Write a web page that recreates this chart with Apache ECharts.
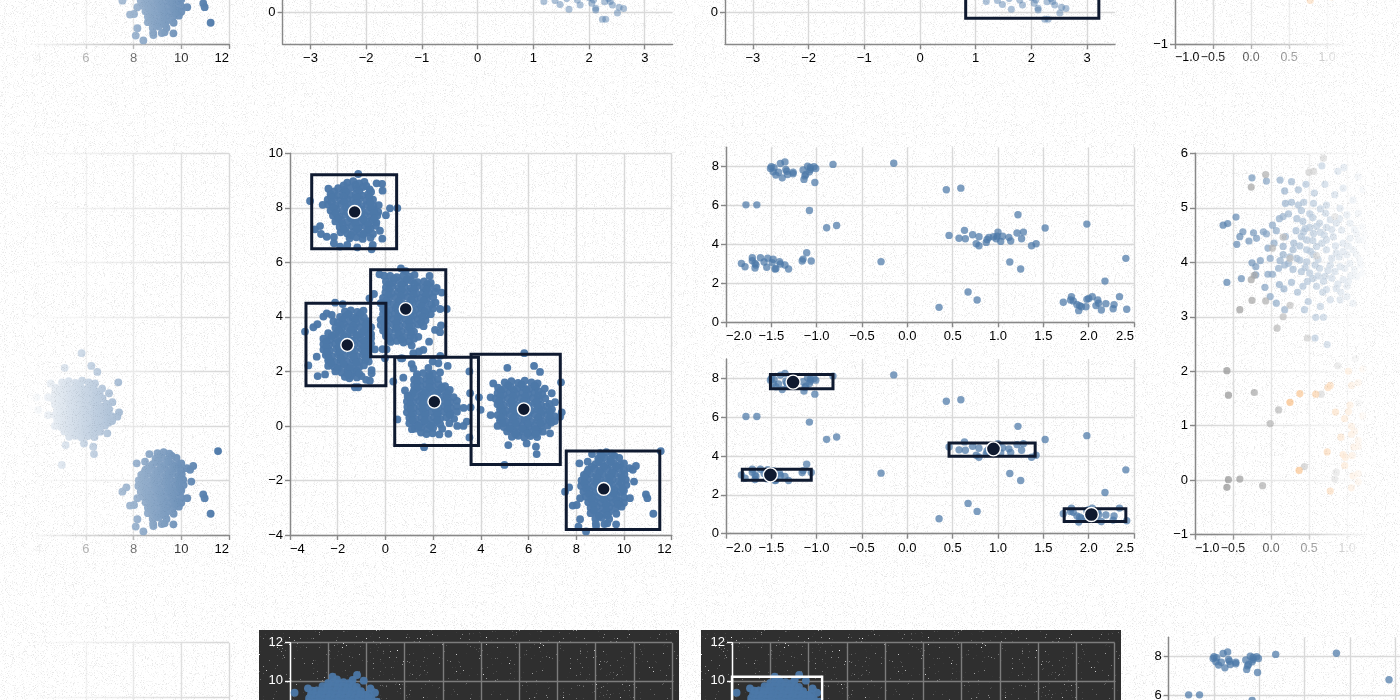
<!DOCTYPE html>
<html><head><meta charset="utf-8">
<style>
html,body{margin:0;padding:0;width:1400px;height:700px;overflow:hidden;background:#fff}
#paper,.dark,#chart,.fade{position:absolute}
#paper{left:0;top:0;width:1400px;height:700px;background-image:url("data:image/svg+xml;utf8,<svg xmlns='http://www.w3.org/2000/svg' width='1400' height='700'><filter id='n'><feTurbulence type='fractalNoise' baseFrequency='1.1' numOctaves='3' seed='4'/><feColorMatrix values='0 0 0 0 .8 0 0 0 0 .8 0 0 0 0 .8 0 0 0 5 -2.8'/></filter><rect width='1400' height='700' filter='url(%23n)'/></svg>")}
.dark{top:630px;height:70px;background-color:#2f2f2f;background-image:url("data:image/svg+xml;utf8,<svg xmlns='http://www.w3.org/2000/svg' width='420' height='70'><filter id='d'><feTurbulence type='fractalNoise' baseFrequency='1.3' numOctaves='2' seed='9'/><feColorMatrix values='0 0 0 0 .85 0 0 0 0 .85 0 0 0 0 .85 0 0 0 7 -5.1'/></filter><rect width='420' height='70' filter='url(%23d)'/></svg>")}
#chart{left:0;top:0;width:1400px;height:700px}
#fadeL{left:0;top:0;width:240px;height:700px;-webkit-mask-image:linear-gradient(to right,transparent 28px,#000 218px);mask-image:linear-gradient(to right,transparent 28px,#000 218px)}
#fadeR{left:1150px;top:70px;width:250px;height:500px;-webkit-mask-image:linear-gradient(to right,#000 65px,transparent 220px);mask-image:linear-gradient(to right,#000 65px,transparent 220px)}
#fadeT{left:1130px;top:0;width:270px;height:70px;-webkit-mask-image:linear-gradient(to right,#000 65px,transparent 220px);mask-image:linear-gradient(to right,#000 65px,transparent 220px)}
</style>
<script src="https://cdn.jsdelivr.net/npm/echarts@6/dist/echarts.min.js"></script>
</head><body>
<div id="paper"></div>
<div class="dark" style="left:259px;width:420px"></div>
<div class="dark" style="left:701px;width:420px"></div>
<div id="chart"></div>
<div class="fade" id="fadeL"></div>
<div class="fade" id="fadeR"></div>
<div class="fade" id="fadeT"></div>
<script>
// ---------- values ----------
const clusterA=[[-3.16,8.25],[-1.14,9.24],[-.37,8.9],[-.14,8.88],[-.12,8.63],[-2.39,8.7],[-2.63,8.11],[.5,7.99],[.19,7.98],[.02,7.73],[-2.95,7.21],[-2.74,7.33],[-2.7,7.04],[-2.46,6.94],[-2.16,6.93],[-2.16,6.7],[-1.9,6.58],[-1.6,6.64],[-1.18,6.55],[-.58,6.48],[-.53,6.64],[-.13,6.87],[-.23,7.16],
[-1.6,8.92],[-1.35,8.98],[-1.1,8.9],[-.88,8.95],
[-1.98,8.72],[-1.72,8.66],[-1.45,8.75],[-1.2,8.7],[-.95,8.76],[-.66,8.68],
[-2.3,8.5],[-2.02,8.45],[-1.78,8.54],[-1.5,8.48],[-1.24,8.52],[-.98,8.46],[-.72,8.5],
[-2.42,8.3],[-2.15,8.34],[-1.88,8.27],[-1.6,8.32],[-1.35,8.28],[-1.08,8.33],[-.8,8.26],[-.52,8.3],
[-2.4,8.12],[-2.1,8.08],[-1.84,8.14],[-1.55,8.1],[-1.3,8.15],[-1.02,8.07],[-.76,8.12],[-.5,8.06],[-.28,8.1],
[-2.3,7.9],[-2.05,7.94],[-1.78,7.88],[-1.52,7.92],[-1.25,7.86],[-1,7.93],[-.72,7.88],[-.46,7.91],[-.3,7.85],
[-2.2,7.72],[-1.94,7.68],[-1.66,7.74],[-1.4,7.7],[-1.14,7.66],[-.88,7.73],[-.6,7.68],[-.34,7.72],
[-2.1,7.5],[-1.85,7.54],[-1.58,7.48],[-1.3,7.52],[-1.05,7.46],[-.8,7.5],[-.55,7.54],[-.38,7.46],
[-1.92,7.3],[-1.66,7.26],[-1.4,7.32],[-1.13,7.28],[-.86,7.33],[-.62,7.26],[-.4,7.34],
[-1.88,7.1],[-1.6,7.06],[-1.33,7.12],[-1.05,7.08],[-.8,7.1],[-.52,7.04],
[-1.5,6.88],[-1.22,6.92],[-.95,6.86],[-.62,6.9],
[-1.75,8.82],[-1.25,8.84],[-.8,8.8],[-2.15,8.6],[-1.65,8.58],[-1.1,8.62],[-.6,8.58],[-2.28,8.4],[-1.75,8.42],[-1.22,8.38],[-.68,8.4],[-2.25,8.2],[-1.72,8.22],[-1.18,8.18],[-.64,8.2],[-2.18,8],[-1.65,8.02],[-1.12,7.98],[-.6,8],[-2.08,7.8],[-1.55,7.82],[-1.02,7.78],[-.48,7.8],[-1.98,7.6],[-1.45,7.62],[-.92,7.58],[-.46,7.6],[-1.8,7.4],[-1.26,7.42],[-.72,7.38],[-1.75,7.2],[-1.2,7.22],[-.72,7.18],[-1.45,7],[-.92,7.02]];
const clusterB=[[.65,5.78],[.85,5.68],[-.25,5.56],[-.06,5.51],[-.67,4.68],[-.48,4.84],[2.57,4.29],[2.36,4.89],[2.29,4.29],[2.33,3.69],[2.08,3.52],[2.29,3.44],[1.83,3.09],[1.1,2.95],[1.59,2.79],[1.17,2.67],[1.41,2.73],[2.3,2.57],[.71,2.48],[-.44,2.81],[-.12,2.82],[.05,2.81],[-.02,2.48],
[.2,5.5],[.48,5.46],[.75,5.52],[1.02,5.48],[1.22,5.54],[1.85,5.5],
[.02,5.3],[.3,5.26],[.56,5.32],[.82,5.28],[1.08,5.33],[1.35,5.27],[1.62,5.3],[1.9,5.25],
[.02,5.08],[.28,5.12],[.55,5.06],[.8,5.1],[1.07,5.05],[1.33,5.12],[1.6,5.07],[1.86,5.12],[2.15,5.06],
[0,4.9],[.26,4.86],[.52,4.92],[.78,4.88],[1.05,4.93],[1.3,4.86],[1.58,4.9],[1.84,4.87],[2.08,4.92],
[-.1,4.7],[.15,4.66],[.42,4.72],[.68,4.68],[.95,4.73],[1.22,4.66],[1.48,4.7],[1.74,4.67],[2,4.72],
[-.2,4.5],[.08,4.52],[.34,4.46],[.6,4.5],[.88,4.46],[1.14,4.53],[1.4,4.47],[1.66,4.52],[1.92,4.46],[2.1,4.52],
[-.1,4.3],[.16,4.26],[.44,4.32],[.7,4.26],[1,4.33],[1.26,4.27],[1.52,4.32],[1.78,4.27],[2,4.31],
[-.1,4.1],[.14,4.06],[.4,4.12],[.66,4.07],[.92,4.13],[1.18,4.06],[1.44,4.11],[1.7,4.06],[1.9,4.1],
[-.2,3.9],[.06,3.86],[.32,3.92],[.58,3.88],[.85,3.93],[1.1,3.87],[1.36,3.92],[1.68,3.88],
[-.2,3.7],[.06,3.66],[.34,3.72],[.6,3.66],[.86,3.72],[1.12,3.67],[1.38,3.72],[1.6,3.66],
[-.1,3.5],[.16,3.46],[.42,3.52],[.68,3.47],[.94,3.52],[1.2,3.46],
[.02,3.3],[.28,3.26],[.54,3.32],[.8,3.27],[1.06,3.31],[1.38,3.27],
[.22,3.08],[.48,3.12],[.76,3.06],[1,3.1],
[.35,5.4],[.9,5.38],[.15,5.2],[.68,5.18],[1.2,5.22],[1.75,5.2],[.15,5],[.68,4.98],[1.2,5.02],[1.72,5],[.12,4.8],[.65,4.78],[1.18,4.82],[1.7,4.8],[.03,4.6],[.55,4.58],[1.08,4.62],[1.6,4.6],[-.05,4.4],[.47,4.38],[1,4.42],[1.52,4.4],[.02,4.2],[.55,4.18],[1.12,4.22],[1.65,4.2],[.02,4],[.52,3.98],[1.05,4.02],[1.55,4],[-.06,3.8],[.45,3.78],[.98,3.82],[1.5,3.8],[-.05,3.6],[.47,3.58],[1,3.62],[.02,3.4],[.55,3.38],[1.08,3.42],[.15,3.2],[.68,3.18],[1.2,3.2]];
const clusterC=[[-3.37,3.46],[-3.02,3.62],[-2.85,3.73],[-2.11,4.52],[-1.79,4.47],[-3.23,2.22],[-2.84,1.83],[-2.53,1.89],[-2.88,2.54],[-2.6,4.01],[-2.46,4.13],[-2.25,4.07],[-2.18,3.83],[-.72,3.83],[-1.51,1.75],[-1.28,1.42],[-1.14,1.42],[-.81,1.69],[-.65,1.66],[-.58,2.05],[-.58,1.93],
[-1.7,4.2],[-1.45,4.24],[-1.18,4.18],[-.92,4.23],
[-1.9,4],[-1.65,4.04],[-1.38,3.97],[-1.12,4.03],[-.9,3.98],
[-2,3.8],[-1.74,3.76],[-1.48,3.82],[-1.22,3.77],[-.96,3.82],[-.8,3.75],
[-2.1,3.6],[-1.84,3.56],[-1.58,3.62],[-1.32,3.57],[-1.06,3.62],[-.8,3.56],[-.6,3.62],
[-2.4,3.4],[-2.12,3.36],[-1.86,3.42],[-1.6,3.37],[-1.34,3.42],[-1.08,3.36],[-.84,3.42],[-.6,3.37],
[-2.6,3.2],[-2.34,3.16],[-2.08,3.22],[-1.82,3.17],[-1.56,3.22],[-1.3,3.16],[-1.04,3.22],[-.78,3.16],[-.6,3.22],
[-2.6,3],[-2.36,2.96],[-2.1,3.02],[-1.84,2.97],[-1.56,3.03],[-1.3,2.96],[-1.04,3.02],[-.78,2.97],[-.6,3.02],
[-2.6,2.8],[-2.34,2.76],[-2.06,2.82],[-1.8,2.77],[-1.54,2.82],[-1.28,2.76],[-1,2.82],[-.76,2.77],[-.6,2.83],
[-2.5,2.6],[-2.24,2.56],[-1.98,2.62],[-1.72,2.57],[-1.46,2.62],[-1.2,2.56],[-.94,2.62],[-.7,2.57],
[-2.4,2.4],[-2.14,2.36],[-1.88,2.42],[-1.62,2.37],[-1.36,2.42],[-1.1,2.36],[-.84,2.42],[-.7,2.36],
[-2.4,2.2],[-2.14,2.16],[-1.88,2.22],[-1.62,2.17],[-1.36,2.22],[-1.1,2.16],[-.9,2.22],
[-2.1,2],[-1.84,1.96],[-1.58,2.02],[-1.32,1.97],[-1.2,2.03],
[-1.7,1.8],[-1.45,1.84],[-1.2,1.78],[-1,1.83],
[-1.55,4.1],[-1.05,4.12],[-1.78,3.9],[-1.25,3.92],[-1.88,3.7],[-1.35,3.68],[-.82,3.7],[-1.98,3.5],[-1.45,3.52],[-.92,3.48],[-2.25,3.3],[-1.72,3.28],[-1.2,3.32],[-.72,3.3],[-2.48,3.1],[-1.95,3.08],[-1.42,3.12],[-.9,3.1],[-2.48,2.9],[-1.95,2.88],[-1.42,2.92],[-.9,2.9],[-2.45,2.7],[-1.92,2.68],[-1.4,2.72],[-.88,2.7],[-2.38,2.5],[-1.85,2.48],[-1.32,2.52],[-.82,2.5],[-2.28,2.3],[-1.75,2.28],[-1.22,2.32],[-2,2.1],[-1.48,2.12],[-1.58,1.9],[-1.1,1.92]];
const clusterD=[[.65,2.48],[.75,1.77],[.33,1.63],[.82,1.3],[.93,1.1],[1.1,2.27],[1.17,2.11],[1.8,2.13],[1.98,2.36],[2.22,2.3],[2.61,2.2],[2.29,1.96],[3.52,2],[3.55,1.2],[3.92,1.05],[3.57,.68],[3.99,.59],[.5,.24],[1.11,-.12],[1.49,-.24],[1.62,-.78],[2.64,-.29],[3.01,0],[3.41,.16],[3.52,-.42],[3.27,0],
[1.32,1.9],[1.58,1.94],[1.84,1.88],[2,1.92],
[1.2,1.7],[1.46,1.66],[1.72,1.72],[1.98,1.67],[2.2,1.72],
[1.2,1.5],[1.46,1.46],[1.72,1.52],[1.98,1.47],[2.24,1.52],[2.5,1.46],
[1.2,1.3],[1.46,1.26],[1.72,1.32],[1.98,1.27],[2.24,1.32],[2.5,1.26],[2.7,1.32],
[1,1.1],[1.26,1.06],[1.52,1.12],[1.78,1.07],[2.04,1.12],[2.3,1.06],[2.56,1.12],[2.86,1.06],
[.9,.9],[1.16,.86],[1.42,.92],[1.68,.87],[1.94,.92],[2.2,.86],[2.46,.92],[2.72,.87],[3,.92],
[.92,.7],[1.18,.66],[1.44,.72],[1.7,.67],[1.96,.72],[2.22,.66],[2.48,.72],[2.74,.67],[3,.72],[3.28,.66],
[.9,.5],[1.16,.46],[1.42,.52],[1.68,.47],[1.94,.52],[2.2,.46],[2.46,.52],[2.72,.47],[3,.52],
[1,.3],[1.26,.26],[1.52,.32],[1.78,.27],[2.04,.32],[2.3,.26],[2.56,.32],[2.88,.26],
[1,.1],[1.26,.06],[1.52,.12],[1.78,.07],[2.04,.12],[2.3,.06],[2.68,.1],
[1.24,-.1],[1.5,-.06],[1.76,-.12],[2,-.07],[2.38,-.1],
[1.72,-.3],[1.98,-.27],[2.26,-.31],
[1.32,1.8],[1.85,1.8],[1.32,1.6],[1.85,1.6],[1.32,1.4],[1.85,1.4],[2.36,1.4],[1.15,1.2],[1.65,1.2],[2.18,1.2],[2.62,1.2],[1.03,1],[1.55,1],[2.08,1],[2.6,1],[1.04,.8],[1.56,.8],[2.08,.8],[2.6,.8],[1.05,.6],[1.57,.6],[2.1,.6],[2.6,.6],[1.1,.4],[1.65,.4],[2.18,.4],[2.7,.4],[1.14,.2],[1.65,.2],[2.18,.2],[1.38,0],[1.9,0]];
const clusterE=[[5.82,2.67],[5.11,2.13],[6.23,2.2],[6.48,1.98],[7.36,1.6],[6.97,1.2],[7.11,.87],[4.41,1.05],[4.41,.4],[7.39,.5],[7.32,.34],[5.15,-.7],[4.99,-1.43],[5.92,-.64],[6.31,-.76],[6.34,-1.03],[6.9,-.27],[4.52,1.56],
[5,1.6],[5.28,1.64],[5.56,1.58],[5.84,1.66],[6.12,1.6],[6.38,1.56],
[4.72,1.4],[4.98,1.36],[5.26,1.42],[5.52,1.37],[5.78,1.42],[6.04,1.36],[6.3,1.42],[6.68,1.37],
[4.7,1.2],[4.96,1.16],[5.22,1.22],[5.48,1.17],[5.74,1.22],[6,1.16],[6.26,1.22],[6.58,1.17],
[4.62,1],[4.88,.96],[5.14,1.02],[5.4,.97],[5.66,1.02],[5.92,.96],[6.18,1.02],[6.44,.97],[6.7,1.01],
[4.7,.8],[4.96,.76],[5.22,.82],[5.48,.77],[5.74,.82],[6,.76],[6.26,.82],[6.52,.77],[6.88,.81],
[4.8,.6],[5.06,.56],[5.32,.62],[5.58,.57],[5.84,.62],[6.1,.56],[6.36,.62],[6.62,.57],[6.98,.61],
[4.7,.4],[4.96,.36],[5.22,.42],[5.48,.37],[5.74,.42],[6,.36],[6.26,.42],[6.52,.37],[6.78,.42],[7.08,.36],
[4.8,.2],[5.06,.16],[5.32,.22],[5.58,.17],[5.84,.22],[6.1,.16],[6.36,.22],[6.62,.17],[6.86,.22],[7.1,.18],
[4.7,0],[4.96,-.04],[5.22,.02],[5.48,-.03],[5.74,.02],[6,-.04],[6.26,.02],[6.52,-.03],[6.8,.01],
[5.1,-.2],[5.36,-.16],[5.62,-.22],[5.88,-.17],[6.14,-.22],[6.4,-.16],[6.6,-.21],
[5.3,-.4],[5.56,-.36],[5.82,-.42],[6.08,-.37],[6.36,-.41],
[5.14,1.5],[5.7,1.52],[6.25,1.48],[4.84,1.3],[5.38,1.3],[5.9,1.32],[6.42,1.28],[4.82,1.1],[5.35,1.1],[5.87,1.08],[6.4,1.1],[4.76,.9],[5.28,.9],[5.8,.92],[6.32,.88],[4.84,.7],[5.35,.7],[5.87,.68],[6.4,.7],[6.75,.72],[4.93,.5],[5.45,.5],[5.97,.48],[6.5,.5],[6.9,.52],[4.84,.3],[5.35,.3],[5.87,.28],[6.4,.3],[6.9,.32],[4.92,.1],[5.45,.1],[5.97,.08],[6.5,.1],[6.95,.12],[5.22,-.1],[5.75,-.1],[6.28,-.12],[5.45,-.3],[5.95,-.28],[6.3,-.3]];
const clusterF=[[11.54,-.92],[8.13,-1.37],[8.48,-1.31],[8.66,-1.03],[10.5,-1.47],[10.37,-1.61],[10.23,-1.55],[7.53,-2.41],[7.7,-2.25],[10.42,-2.04],[10.92,-2.51],[10.98,-2.65],[11.23,-3.22],[10.25,-2.65],[7.85,-2.92],[8.02,-2.9],[8.16,-2.65],[8.16,-3.42],[8.09,-3.69],[8.41,-3.87],[8.83,-3.67],[9.67,-3.61],[9.3,-3.57],
[9,-1],[9.26,-.96],[9.5,-1.02],
[8.92,-1.2],[9.18,-1.16],[9.44,-1.22],[9.8,-1.17],
[8.8,-1.4],[9.06,-1.36],[9.32,-1.42],[9.58,-1.37],[9.84,-1.42],[10,-1.37],
[8.5,-1.6],[8.76,-1.56],[9.02,-1.62],[9.28,-1.57],[9.54,-1.62],[9.8,-1.56],[10,-1.62],
[8.32,-1.8],[8.58,-1.76],[8.84,-1.82],[9.1,-1.77],[9.36,-1.82],[9.62,-1.76],[9.88,-1.82],[10.02,-1.77],
[8.22,-2],[8.48,-1.96],[8.74,-2.02],[9,-1.97],[9.26,-2.02],[9.52,-1.96],[9.78,-2.02],[10.08,-1.97],
[8.2,-2.2],[8.46,-2.16],[8.72,-2.22],[8.98,-2.17],[9.24,-2.22],[9.5,-2.16],[9.76,-2.22],[10.1,-2.17],
[8.3,-2.4],[8.56,-2.36],[8.82,-2.42],[9.08,-2.37],[9.34,-2.42],[9.6,-2.36],[9.86,-2.42],[10,-2.37],
[8.4,-2.6],[8.66,-2.56],[8.92,-2.62],[9.18,-2.57],[9.44,-2.62],[9.7,-2.56],[10,-2.62],
[8.5,-2.8],[8.76,-2.76],[9.02,-2.82],[9.28,-2.77],[9.54,-2.82],[9.8,-2.76],[10,-2.82],
[8.6,-3],[8.86,-2.96],[9.12,-3.02],[9.38,-2.97],[9.64,-3.02],[9.9,-2.96],
[8.6,-3.2],[8.86,-3.16],[9.12,-3.22],[9.38,-3.17],[9.68,-3.22],
[8.8,-3.4],[9.06,-3.36],[9.38,-3.41],
[8.82,-3.58],[9.18,-3.6],
[9.05,-1.1],[9.6,-1.1],[8.94,-1.3],[9.45,-1.3],[8.64,-1.5],[9.16,-1.5],[9.68,-1.48],[8.45,-1.7],[8.97,-1.7],[9.5,-1.72],[8.35,-1.9],[8.87,-1.9],[9.4,-1.88],[9.92,-1.9],[8.34,-2.1],[8.85,-2.1],[9.38,-2.08],[9.9,-2.1],[8.42,-2.3],[8.94,-2.3],[9.46,-2.32],[9.95,-2.3],[8.53,-2.5],[9.05,-2.5],[9.57,-2.48],[8.63,-2.7],[9.15,-2.7],[9.67,-2.72],[8.72,-2.9],[9.25,-2.9],[9.75,-2.88],[8.74,-3.1],[9.25,-3.1],[8.95,-3.3],[9.3,-3.28]];
const centerPoints=[[-1.29,7.85],[.85,4.29],[-1.6,2.97],[2.05,.89],[5.8,.61],[9.15,-2.31]];
const clusterBoxes=[[-3.09,.47,6.5,9.21],[-.62,2.53,2.54,5.73],[-3.33,.02,1.47,4.5],[.39,3.9,-.72,2.52],[3.59,7.33,-1.41,2.63],[7.58,11.5,-3.8,-.92]];

const projected=[[-1.51,7.91],[-1.5,8],[-1.47,7.95],[-1.48,7.74],[-1.45,7.57],[-1.42,7.72],[-1.4,8.17],[-1.35,8.25],[-1.34,7.86],[-1.38,7.43],[-1.32,7.6],[-1.33,7.77],[-1.26,7.72],[-1.26,7.64],[-1.15,7.83],[-1.1,8.03],[-1.12,7.6],[-1.13,7.53],[-1.14,7.35],[-1.07,7.86],[-1.07,7.96],[-1.03,8],[-1.01,7.91],[-1.08,7.74],[-1.02,7.19],[-.82,8.12],[-.15,8.18],[.43,6.82],[.59,6.9],[-1.78,6.04],[-1.66,6.04],[-1.08,5.75],[-.89,4.86],[-.78,4.98],
[-1.83,3.03],[-1.79,2.86],[-1.71,3.17],[-1.71,3.32],[-1.68,3.03],[-1.67,2.95],[-1.68,2.79],[-1.62,3.32],[-1.58,3.1],[-1.54,3.3],[-1.55,2.83],[-1.49,3.07],[-1.48,3.24],[-1.46,2.74],[-1.41,3.12],[-1.4,3],[-1.45,2.76],[-1.35,2.95],[-1.31,2.74],[-1.16,3.15],[-1.15,3.25],[-1.11,3.58],[-1.06,3.15],[-.29,3.12],
[.46,4.47],[.57,4.32],[.63,4.73],[.64,4.3],[.72,4.5],[.79,4.4],[.76,4.04],[.79,3.94],[.87,4.11],[.88,4.26],[.9,4.37],[.95,4.4],[.99,4.43],[1,4.64],[.98,4.3],[1.03,4.16],[1.05,4.43],[1.12,4.37],[1.14,4.18],[1.21,4.59],[1.28,4.64],[1.26,4.3],[1.22,5.53],[1.37,3.94],[1.42,4.04],[1.52,4.85],[1.13,3.1],[1.25,2.74],[1.98,5.05],[.67,1.56],[.77,1.15],[.35,.77],[2.41,3.29],[2.18,2.12],
[1.72,1.03],[1.81,1.32],[1.8,1.15],[1.83,1.1],[1.87,.92],[1.89,.6],[1.9,.86],[1.97,.8],[1.98,1.18],[2,1.23],[2.04,1.32],[2.1,1.15],[2.08,.86],[2.11,.98],[2.14,.63],[2.19,.96],[2.27,.7],[2.28,.91],[2.34,1.32],[2.42,.67],[1.92,.8]];
const projectedCenters=[[-1.26,7.81],[-1.51,3.03],[.95,4.37],[2.03,.99]];
const projectedBoxes=[[-1.51,-.82,7.47,8.2],[-1.82,-1.06,2.76,3.32],[.46,1.41,3.99,4.67],[1.73,2.41,.63,1.28]];

const topPoints=[[1.19,.33],[1.39,.36],[1.48,.24],[1.64,.09],[1.84,.22],[1.79,.38],[2.05,.28],[2.12,.07],[2.12,.12],[2.08,.38],[2.28,.32],[2.38,.33],[2.42,.22],[2.54,.155],[2.62,.11],[2.51,-.03],[2.24,-.22],[2.3,-.22],[2.35,.42],[1.6,.42],[2.0,.45]];
const topBox=[[.82,3.21,-.19,2]];

const darkPoints=[[-3.76,9.38],[-3.06,9.61],[-2.82,9.49],[-1.77,10.22],[-1.54,10.08],[-.49,10.31],[-.72,10.05],[-.14,10.01],[.21,9.61],[.45,9.38],
[-2,9.9],[-1.74,9.94],[-1.46,9.88],[-1.2,9.93],[-.92,9.88],
[-2.3,9.72],[-2.04,9.68],[-1.78,9.74],[-1.5,9.69],[-1.24,9.73],[-.98,9.67],[-.72,9.74],[-.5,9.69],
[-2.6,9.5],[-2.34,9.46],[-2.08,9.52],[-1.82,9.47],[-1.56,9.52],[-1.3,9.46],[-1.04,9.52],[-.78,9.47],[-.52,9.52],[-.28,9.46],
[-2.9,9.3],[-2.64,9.26],[-2.38,9.32],[-2.12,9.27],[-1.86,9.32],[-1.6,9.26],[-1.34,9.32],[-1.08,9.27],[-.82,9.32],[-.56,9.26],[-.3,9.32],[-.04,9.27],[.12,9.32],
[-3,9.1],[-2.74,9.06],[-2.48,9.12],[-2.22,9.07],[-1.96,9.12],[-1.7,9.06],[-1.44,9.12],[-1.18,9.07],[-.92,9.12],[-.66,9.06],[-.4,9.12],[-.14,9.07],[.12,9.12],[.28,9.06],
[-3.02,8.9],[-2.76,8.86],[-2.5,8.92],[-2.24,8.87],[-1.98,8.92],[-1.72,8.86],[-1.46,8.92],[-1.2,8.87],[-.94,8.92],[-.68,8.86],[-.42,8.92],[-.16,8.87],[.1,8.92],[.36,8.87],[.55,8.92]];
const darkBox=[[-4,.71,-5,10.22]];

const sideBlue=[[-.63,4.68],[-.57,4.71],[-.46,4.83],[-.25,5.55],[-.06,5.49],[.12,5.51],[.27,5.48],[.46,5.43],[.18,5.31],[.36,5.33],[.67,5.77],[.88,5.67],[.96,5.74],[.71,5.43],[.57,5.27],[-.37,4.56],[-.41,4.47],[-.45,4.33],[-.29,4.39],[-.23,4.54],[-.19,4.44],[-.1,4.56],[-.06,4.52],[.02,4.68],[.07,4.58],[.11,4.8],[.19,5.08],[.27,5.1],[.36,5.05],[.43,5.1],[.16,4.84],[.23,4.89],[.34,4.8],[.4,4.95],[.56,5.08],[.65,4.98],[.51,4.89],[.73,5.05],[.91,4.99],[.84,5.24],[1,4.87],[-.39,3.7],[-.58,3.63],[-.25,3.99],[-.2,3.92],[-.2,3.77],[-.14,4.03],[-.04,4.26],[.04,4.35],[.16,4.29],[.19,4.47],[-.01,4.07],[-.04,3.78],[.02,3.78],[-.08,3.54],[-.01,3.37],[.07,3.25],[.11,3.59],[.17,3.51],[.27,3.63],[.18,3.13],[.44,3.13],[.59,2.99],[.69,2.99],[.58,2.61],[.74,2.49],[.35,3.45],[.42,3.56],[.49,3.28],[.65,3.19],[.78,3.31],[.91,3.31],[1,3.37],[1.08,3.25],
[.12,4.03],[.18,3.95],[.1,3.89],[.29,3.87],[.25,4.1],[.34,4.07],[.3,4.35],[.4,4.47],[.43,4.56],[.47,4.41],[.56,4.53],[.51,4.64],[.64,4.72],[.73,4.64],[.6,4.29],[.73,4.41],[.82,4.47],[.93,4.59],[1.04,4.72],[1.13,4.53],[1.21,4.41],[.95,4.35],[1.08,4.23],[.86,4.17],[.73,4.23],[.56,4.14],[.47,4.01],[.4,3.83],[.51,3.8],[.64,3.89],[.78,3.95],[.91,3.92],[1.04,3.98],[1.17,4.04],[.69,3.65],[.8,3.71],[.95,3.68],[1.13,3.74],[.6,3.56],[.73,3.5],[.86,3.52],[1,3.56],[1.15,4.41],[1.26,4.29],[1.21,4.65],[1.15,4.9],[1.08,5.14],[1.15,5.57],[1.21,5.33],[.95,5.36],[.86,4.72],[.78,4.78],[1.04,4.44],[.6,4.66],[.47,4.23],[.67,4.35],[.8,4.07],[1,4.14],[1.1,3.86],[.38,4.04],[.29,4.23],[.16,4.14],[.23,3.98],[.58,3.95],[.71,3.74],[.84,3.83],[.97,3.89],[1.21,3.8],
[.52,4.2],[.62,4.05],[.7,4.5],[.85,4.3],[.9,4.1],[.55,4.4],[.45,3.9],[.55,3.7],[.65,4.55],[.75,3.85],[.88,3.6],[.95,4.2],[1.02,4.3],[1.1,4.6],[1.05,3.75],[.68,3.45],[.8,4.6],[.9,4.8],[.72,4.9],[.62,3.75],[.48,3.65],[.38,4.3],[.33,4.58],[.42,4.75],[.55,4.82],[1.12,4.15],[1.18,3.95],[1.25,4.5],[1.3,4.1],[1.02,3.65],[.92,3.45],[.45,4.62]];
const sideGray=[[-.07,5.61],[-.26,5.38],[.5,5.65],[.56,5.67],[.69,5.91],[.16,4.46],[.02,4.26],[.25,4.07],[.6,4.12],[-.26,3.68],[-.22,3.76],[-.25,3.3],[-.07,3.29],[-.41,3.13],[.25,3.21],[.16,3],[.08,2.79],[.48,2.61],[.84,4.84],[-.58,2.01],[-.56,1.56],[-.22,1.61],[.1,1.29],[-.01,1.04],[.44,.25],[-.56,.01],[-.41,.02],[-.11,-.1],[-.58,-.13],[.88,2.1],[.66,1.58],[.86,.15],[.84,.02],[1.11,2.23],[1.16,1.42]];
const sideOrange=[[.25,1.43],[.38,1.59],[.59,1.58],[.78,1.74],[.75,1.7],[.37,.18],[.74,.52],[.78,-.2],[.85,1.25],[.97,1.13],[.92,.79],[.95,.47],[.98,.42],[.97,.27],[1.02,2],[1.06,1.74],[1.15,1.79],[1.04,1.38],[1.02,1.26],[1.06,.99],[1.1,.9],[1.06,.84],[1.09,.61],[1.15,.62],[1.07,.45],[1.08,.08],[1.15,.12],[1.06,-.14],[1.15,-.03],[1.21,2.04],[1.15,.73],[1.21,1.18]];

const topTicksX=[-3,-2,-1,0,1,2,3];
const topLinesX=[-3.5,-3,-2,-1,0,1,2,3,3.5];
const projTicksY=[0,2,4,6,8];
const allClusters=[].concat(clusterA,clusterB,clusterC,clusterD,clusterE,clusterF);

// ---------- styles ----------
const BLUE='#4c78a8', INK='#0f1a30', FONT='"Liberation Sans",Helvetica,Arial,sans-serif';
const minus=v=>String(v).replace('-','\u2212');
const fix1=v=>v.toFixed(1).replace('-','\u2212');
function axis(kind,gi,min,max,interval,o){
  o=o||{};
  const ax={type:'value',gridIndex:gi,min,max,scale:true,
    position:kind==='x'?'bottom':'left',
    axisLine:{show:true,onZero:false,lineStyle:{color:o.axis||'#888',width:1.4}},
    axisTick:{show:true,length:5,lineStyle:{color:o.axis||'#888',width:1.4}},
    axisLabel:{show:true,color:o.text||'#000',fontFamily:FONT,fontSize:o.size||13,margin:kind==='x'?8:7,hideOverlap:false,showMinLabel:true,showMaxLabel:true,formatter:o.fmt||minus},
    splitLine:{show:true,lineStyle:{color:o.grid||'#d9d9d9',width:1.4}}};
  if(interval)ax.interval=interval;
  if(o.flush){ax.axisLabel.alignMinLabel='left';ax.axisLabel.alignMaxLabel='right';}
  if(o.ticks){ax.axisTick.customValues=o.ticks;ax.axisLabel.customValues=o.ticks;}
  if(o.lines){ax.splitLine.customValues=o.lines;}
  return ax;
}
function dots(gi,data,size,color,opacity,z){
  return {type:'scatter',xAxisIndex:gi,yAxisIndex:gi,data,symbolSize:size,silent:true,z:z||3,
    itemStyle:{color,opacity},clip:true,animation:false,large:false};
}
function centers(gi,data,size){
  return {type:'scatter',xAxisIndex:gi,yAxisIndex:gi,data,symbolSize:size,silent:true,z:6,
    itemStyle:{color:INK,opacity:1,borderColor:'#fff',borderWidth:1.4},animation:false};
}
function boxes(gi,data,color,w){
  return {type:'custom',xAxisIndex:gi,yAxisIndex:gi,data,silent:true,z:5,animation:false,clip:false,
    encode:{x:[0,1],y:[2,3]},
    renderItem:(p,api)=>{
      const a=api.coord([api.value(0),api.value(3)]),b=api.coord([api.value(1),api.value(2)]);
      return {type:'rect',shape:{x:a[0],y:a[1],width:b[0]-a[0],height:b[1]-a[1]},
        style:{fill:'none',stroke:color,lineWidth:w}};
    }};
}
const darkAxis={axis:'#fff',text:'#fff',grid:'#7c7c7c'};
const free=g=>Object.assign({outerBoundsMode:'none',containLabel:false},g);

// ---------- centre of the page ----------
const grids=[
 {left:290,top:153.3,width:381.7,height:381.7},
 {left:726,top:147.3,width:408,height:175},
 {left:726,top:359,width:408,height:174.7},
 {left:282.6,top:-20,width:390,height:64.3},
 {left:725,top:-20,width:390,height:64.3},
 {left:290,top:642.7,width:382,height:382},
 {left:732,top:642.7,width:382.7,height:382},
 {left:1168.7,top:637.3,width:408,height:175}
].map(free);
const projY={fmt:v=>v===9?'':minus(v),ticks:projTicksY};
const xAxes=[
 axis('x',0,-4,12,2,{flush:true}),
 axis('x',1,-2,2.5,.5,{flush:true,fmt:fix1}),
 axis('x',2,-2,2.5,.5,{flush:true,fmt:fix1}),
 axis('x',3,-3.5,3.5,.5,{ticks:topTicksX,lines:topLinesX}),
 axis('x',4,-3.5,3.5,.5,{ticks:topTicksX,lines:topLinesX}),
 axis('x',5,-4,16,2,darkAxis),
 axis('x',6,-4,16,2,darkAxis),
 axis('x',7,-2,2.5,.5,{fmt:fix1})
];
const yAxes=[
 axis('y',0,-4,10,2),
 axis('y',1,0,9,2,projY),
 axis('y',2,0,9,2,projY),
 axis('y',3,-1,1,1,{ticks:[0]}),
 axis('y',4,-1,1,1,{ticks:[0]}),
 axis('y',5,-8,12,2,darkAxis),
 axis('y',6,-8,12,2,darkAxis),
 axis('y',7,0,9,2,projY)
];
const series=[
 dots(0,allClusters,7.8,BLUE,.97),centers(0,centerPoints,12.8),boxes(0,clusterBoxes,INK,3),
 dots(1,projected,7.4,BLUE,.72),
 dots(2,projected,7.4,BLUE,.72),centers(2,projectedCenters,14),boxes(2,projectedBoxes,INK,3),
 dots(3,topPoints,7,BLUE,.45),
 dots(4,topPoints,7,BLUE,.45),boxes(4,topBox,INK,3),
 dots(5,darkPoints,7.8,BLUE,.95),
 dots(6,darkPoints,7.8,BLUE,.95),boxes(6,darkBox,'#fff',2.4),
 dots(7,projected,7.4,BLUE,.72)
];
const chart=echarts.init(document.getElementById('chart'),null,{renderer:'canvas'});
chart.setOption({backgroundColor:'transparent',animation:false,grid:grids,xAxis:xAxes,yAxis:yAxes,series});

// ---------- left column, fading out to the left ----------
const leftGrids=[
 {left:-152.7,top:153.3,width:381.7,height:381.7},
 {left:-152.7,top:-337.7,width:381.7,height:381.7},
 {left:-152.7,top:642.7,width:381.7,height:381.7}
].map(free);
const leftChart=echarts.init(document.getElementById('fadeL'));
leftChart.setOption({backgroundColor:'transparent',animation:false,grid:leftGrids,
 xAxis:[0,1,2].map(i=>axis('x',i,-4,12,2,{flush:true})),
 yAxis:[0,1,2].map(i=>axis('y',i,-4,10,2)),
 series:[0,1,2].map(i=>dots(i,allClusters,7.8,BLUE,.97))});

// ---------- right column, fading out to the right ----------
function sideOption(top){
 return {backgroundColor:'transparent',animation:false,
  grid:[free({left:45,top,width:190,height:381.4})],
  xAxis:[axis('x',0,-1,1.5,.5,{flush:true,fmt:fix1,size:12.4})],
  yAxis:[axis('y',0,-1,6,1)],
  series:[dots(0,sideBlue,7.2,BLUE,.72),dots(0,sideGray,7.2,'#8c8c8c',.72),dots(0,sideOrange,7.2,'#f58518',.72)]};
}
const rightChart=echarts.init(document.getElementById('fadeR'));
rightChart.setOption(sideOption(83.3));
const rightTop=echarts.init(document.getElementById('fadeT'));
rightTop.setOption(sideOption(-337.4));
</script>
</body></html>
